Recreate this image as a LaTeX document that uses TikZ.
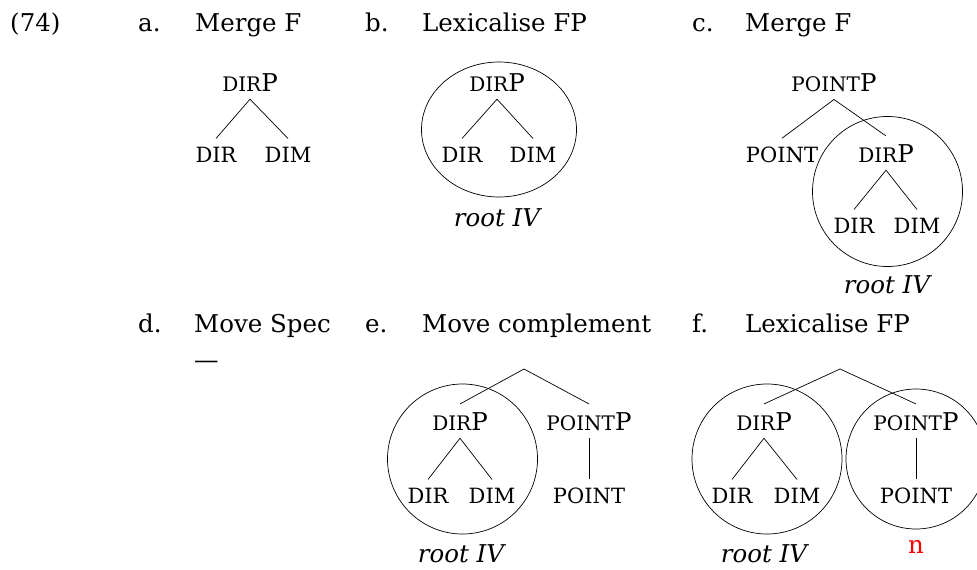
\documentclass[tikz,border=0pt]{standalone}
\usepackage{fontspec}
\setmainfont{DejaVu Serif}
\newcommand\mainsz{\fontsize{24.5}{29}\selectfont}
\newcommand\leafsz{\fontsize{21}{25}\selectfont}
\newcommand\scsz{\fontsize{20}{24}\selectfont}
\newcommand\fsc[1]{{\scsz #1}}
\begin{document}
\begin{tikzpicture}[x=1pt,y=-1pt,
  every node/.style={font=\mainsz},
  txt/.style={inner sep=0pt, anchor=base west},
  lab/.style={inner xsep=0pt, inner ysep=8pt, anchor=base},
  leaf/.style={lab, font=\leafsz},
  rootlab/.style={inner sep=0pt, anchor=base, font=\mainsz\itshape},
  edge/.style={draw, line width=0.7pt},
  ring/.style={draw, line width=0.7pt}]
\useasboundingbox (0,0) rectangle (977,570);
\clip (0,0) rectangle (977,570);
% headings
\node[txt] (n74) at (10,31) {(74)};
\node[txt] (la) at (138,31) {a.};
\node[txt] (ta) at (195,31) {Merge F};
\node[txt] (lb) at (365,31) {b.};
\node[txt] (tb) at (422,31) {Lexicalise FP};
\node[txt] (lc) at (692,31) {c.};
\node[txt] (tc) at (745,31) {Merge F};
\node[txt] (ld) at (138,332) {d.};
\node[txt] (td) at (194,332) {Move Spec};
\node[txt] (tdash) at (194,368) {—};
\node[txt] (le) at (365,332) {e.};
\node[txt] (te) at (422,332) {Move complement};
\node[txt] (lf) at (692,332) {f.};
\node[txt] (tf) at (745,332) {Lexicalise FP};
% tree a
\node[lab] (aP) at (250,91) {\fsc{DIR}P};
\node[leaf] (aD) at (216,162) {DIR};
\node[leaf] (aM) at (288,162) {DIM};
\draw[edge] (aP.south) -- (aD.north);
\draw[edge] (aP.south) -- (aM.north);
% tree b
\node[lab] (bP) at (497,91) {\fsc{DIR}P};
\node[leaf] (bD) at (462,162) {DIR};
\node[leaf] (bM) at (533,162) {DIM};
\draw[edge] (bP.south) -- (bD.north);
\draw[edge] (bP.south) -- (bM.north);
\draw[ring] (499,129.5) ellipse [x radius=77.5, y radius=67.5];
\node[rootlab] (bR) at (497,226) {root IV};
% tree c
\node[lab] (cT) at (834,91) {\fsc{POINT}P};
\node[leaf] (cL) at (782,162) {POINT};
\node[lab] (cP) at (886,162) {\fsc{DIR}P};
\node[leaf] (cD) at (854,233) {DIR};
\node[leaf] (cM) at (917,233) {DIM};
\draw[edge] (cT.south) -- (cL.north);
\draw[edge] (cT.south) -- (cP.north);
\draw[edge] (cP.south) -- (cD.north);
\draw[edge] (cP.south) -- (cM.north);
\draw[ring] (887.5,191.5) circle [radius=75];
\node[rootlab] (cR) at (887,293) {root IV};
% tree e
\coordinate (eA) at (524,369);
\node[lab] (eP) at (460,430) {\fsc{DIR}P};
\node[lab] (eQ) at (589,430) {\fsc{POINT}P};
\node[leaf] (eD) at (428,503) {DIR};
\node[leaf] (eM) at (492,503) {DIM};
\node[leaf] (eL) at (589,503) {POINT};
\draw[edge] (eA) -- (eP.north);
\draw[edge] (eA) -- (eQ.north);
\draw[edge] (eP.south) -- (eD.north);
\draw[edge] (eP.south) -- (eM.north);
\draw[edge] (eQ.south) -- (eL.north);
\draw[ring] (462.5,459) circle [radius=75];
\node[rootlab] (eR) at (461,562) {root IV};
% tree f
\coordinate (fA) at (840,369);
\node[lab] (fP) at (764,430) {\fsc{DIR}P};
\node[lab] (fQ) at (916,430) {\fsc{POINT}P};
\node[leaf] (fD) at (732,503) {DIR};
\node[leaf] (fM) at (797,503) {DIM};
\node[leaf] (fL) at (916,503) {POINT};
\draw[edge] (fA) -- (fP.north);
\draw[edge] (fA) -- (fQ.north);
\draw[edge] (fP.south) -- (fD.north);
\draw[edge] (fP.south) -- (fM.north);
\draw[edge] (fQ.south) -- (fL.north);
\draw[ring] (767,459) circle [radius=75];
\draw[ring] (916,459) circle [radius=70];
\node[rootlab] (fR) at (764,562) {root IV};
\node[inner sep=0pt, anchor=base, text=red] (fN) at (916,553) {n};
\end{tikzpicture}
\end{document}
